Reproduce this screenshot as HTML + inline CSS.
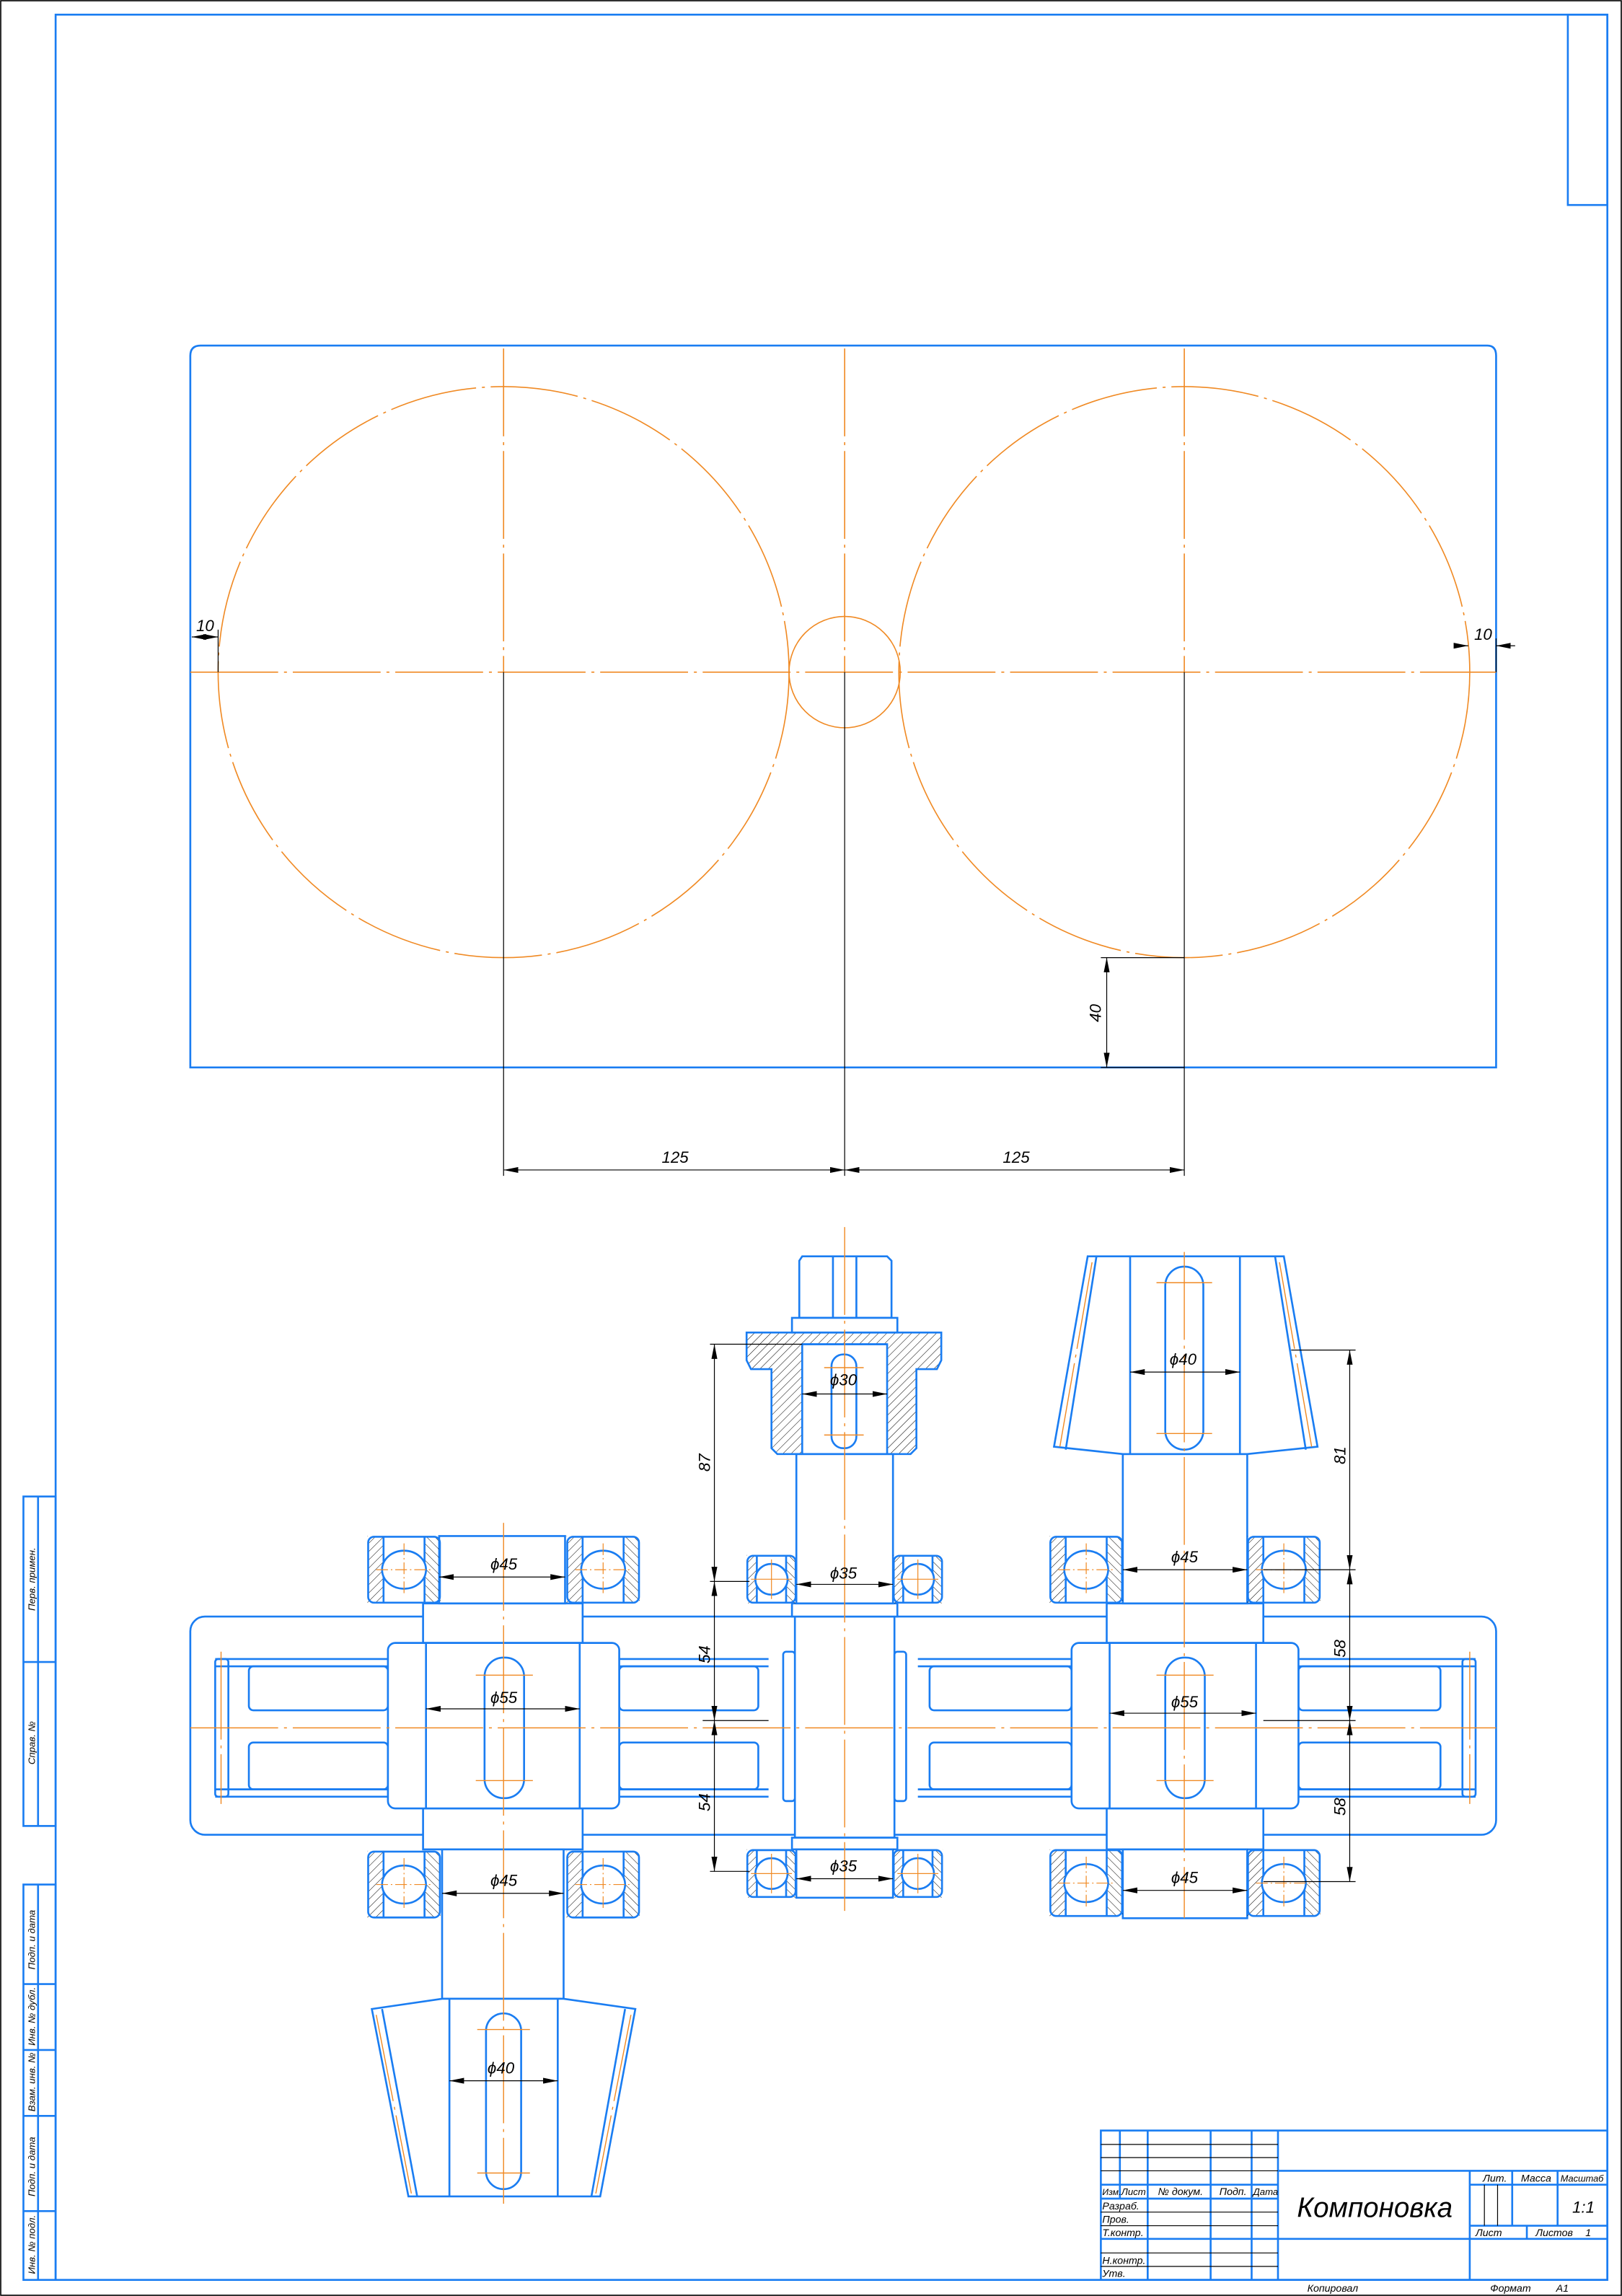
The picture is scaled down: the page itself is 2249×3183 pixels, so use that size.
<!DOCTYPE html>
<html><head><meta charset="utf-8"><style>
html,body{margin:0;padding:0;background:#fff}
svg{display:block}
text{font-family:"Liberation Sans","Noto Sans CJK SC",sans-serif;font-style:italic;fill:#000}
</style></head><body>
<svg width="2249" height="3183" viewBox="0 0 1108 1568" preserveAspectRatio="none" xmlns="http://www.w3.org/2000/svg">
<defs>
<pattern id="h" width="4" height="4" patternUnits="userSpaceOnUse" patternTransform="rotate(45)"><line x1="0" y1="0" x2="0" y2="4" stroke="#000" stroke-width="0.5"/></pattern>
<pattern id="h2" width="4" height="4" patternUnits="userSpaceOnUse" patternTransform="rotate(-45)"><line x1="0" y1="0" x2="0" y2="4" stroke="#000" stroke-width="0.5"/></pattern>
<g id="brg">
<rect x="0" y="0" width="11" height="46" fill="url(#h)"/>
<rect x="39" y="0" width="11" height="46" fill="url(#h2)"/>
<rect x="0.5" y="0.5" width="49" height="45" rx="4" fill="none" stroke="#1a7df2" stroke-width="1.3"/>
<line x1="11" y1="0" x2="11" y2="46" stroke="#1a7df2" stroke-width="1.3"/>
<line x1="39" y1="0" x2="39" y2="46" stroke="#1a7df2" stroke-width="1.3"/>
<ellipse cx="25" cy="23" rx="15" ry="13" fill="#fff" stroke="#1a7df2" stroke-width="1.3"/>
<line x1="6" y1="23" x2="44" y2="23" stroke="#f08a24" stroke-width="0.6" stroke-dasharray="8 2 1 2"/>
<line x1="25" y1="5" x2="25" y2="41" stroke="#f08a24" stroke-width="0.6" stroke-dasharray="8 2 1 2"/>
</g>
<g id="brg2">
<rect x="0" y="0" width="7" height="33" fill="url(#h)"/>
<rect x="27" y="0" width="7" height="33" fill="url(#h2)"/>
<rect x="0.5" y="0.5" width="33" height="32" rx="4" fill="none" stroke="#1a7df2" stroke-width="1.3"/>
<line x1="7" y1="0" x2="7" y2="33" stroke="#1a7df2" stroke-width="1.3"/>
<line x1="27" y1="0" x2="27" y2="33" stroke="#1a7df2" stroke-width="1.3"/>
<ellipse cx="17" cy="16.5" rx="11" ry="10.5" fill="#fff" stroke="#1a7df2" stroke-width="1.3"/>
<line x1="3" y1="16.5" x2="31" y2="16.5" stroke="#f08a24" stroke-width="0.6"/>
<line x1="17" y1="3" x2="17" y2="30" stroke="#f08a24" stroke-width="0.6"/>
</g>
<marker id="a" viewBox="0 0 10 4" refX="10" refY="2" markerWidth="10" markerHeight="4" markerUnits="userSpaceOnUse" orient="auto-start-reverse"><path d="M0,0 L10,2 L0,4z" fill="#000"/></marker>
</defs>

<rect x="0.5" y="0.5" width="1107" height="1567" fill="none" stroke="#000" stroke-width="0.8"/>
<g fill="none" stroke="#1a7df2" stroke-width="1.3">
<rect x="38" y="10" width="1060" height="1547"/>
<rect x="1071" y="10" width="27" height="130"/>
<rect x="16" y="1022" width="22" height="225"/>
<line x1="26" y1="1022" x2="26" y2="1247"/>
<line x1="16" y1="1135" x2="38" y2="1135"/>
<rect x="16" y="1287" width="22" height="270"/>
<line x1="26" y1="1287" x2="26" y2="1557"/>
<line x1="16" y1="1355" x2="38" y2="1355"/>
<line x1="16" y1="1400" x2="38" y2="1400"/>
<line x1="16" y1="1445" x2="38" y2="1445"/>
<line x1="16" y1="1510" x2="38" y2="1510"/>
</g>
<g font-size="6.5">
<text transform="translate(24,1100) rotate(-90)">Перв. примен.</text>
<text transform="translate(24,1205) rotate(-90)">Справ. №</text>
<text transform="translate(24,1345) rotate(-90)">Подп. и дата</text>
<text transform="translate(24,1397) rotate(-90)">Инв. № дубл.</text>
<text transform="translate(24,1442) rotate(-90)">Взам. инв. №</text>
<text transform="translate(24,1500) rotate(-90)">Подп. и дата</text>
<text transform="translate(24,1553) rotate(-90)">Инв. № подл.</text>
</g>

<path d="M130,729 L130,243 Q130,236 137,236 L1016,236 Q1022,236 1022,243 L1022,729 Z" fill="none" stroke="#1a7df2" stroke-width="1.3"/>
<g fill="none" stroke="#f08a24" stroke-width="0.8" stroke-dasharray="60 4 2 4">
<circle cx="344" cy="459" r="195"/>
<circle cx="809" cy="459" r="195"/>
<circle cx="577" cy="459" r="38" stroke-dasharray="none"/>
<line x1="130" y1="459" x2="1022" y2="459"/>
<line x1="344" y1="238" x2="344" y2="459"/>
<line x1="577" y1="238" x2="577" y2="459"/>
<line x1="809" y1="238" x2="809" y2="459"/>
</g>
<g stroke="#000" stroke-width="0.6" fill="none">
<line x1="344" y1="459" x2="344" y2="803"/>
<line x1="577" y1="459" x2="577" y2="803"/>
<line x1="809" y1="459" x2="809" y2="803"/>
<line x1="344" y1="799" x2="577" y2="799" marker-start="url(#a)" marker-end="url(#a)"/>
<line x1="577" y1="799" x2="809" y2="799" marker-start="url(#a)" marker-end="url(#a)"/>
<line x1="131" y1="435" x2="149" y2="435" marker-start="url(#a)" marker-end="url(#a)"/>
<line x1="149" y1="430" x2="149" y2="459"/>
<line x1="995" y1="441" x2="1003" y2="441" marker-end="url(#a)"/>
<line x1="1022" y1="441" x2="1035" y2="441" marker-start="url(#a)"/>
<line x1="1022" y1="436" x2="1022" y2="459"/>
<line x1="752" y1="654" x2="809" y2="654"/>
<line x1="752" y1="729" x2="809" y2="729"/>
<line x1="756" y1="654" x2="756" y2="729" marker-start="url(#a)" marker-end="url(#a)"/>
</g>
<g font-size="11">
<text x="452" y="794">125</text>
<text x="685" y="794">125</text>
<text x="134" y="431">10</text>
<text x="1007" y="437">10</text>
<text transform="translate(752,698) rotate(-90)">40</text>
</g>

<g fill="none" stroke="#1a7df2" stroke-width="1.3">
<rect x="130" y="1104" width="892" height="149" rx="10"/>
<path d="M147,1133 H265 M147,1138 H265 M147,1222 H265 M147,1227 H265 M423,1133 H525 M423,1138 H525 M423,1222 H525 M423,1227 H525"/>
<rect x="147" y="1133" width="9" height="94" rx="2"/>
<rect x="170" y="1138" width="95" height="30" rx="3"/>
<rect x="170" y="1190" width="95" height="32" rx="3"/>
<rect x="423" y="1138" width="95" height="30" rx="3"/>
<rect x="423" y="1190" width="95" height="32" rx="3"/>
<path d="M627,1133 H732 M627,1138 H732 M627,1222 H732 M627,1227 H732 M887,1133 H1008 M887,1138 H1008 M887,1222 H1008 M887,1227 H1008"/>
<rect x="999" y="1133" width="9" height="94" rx="2"/>
<rect x="635" y="1138" width="97" height="30" rx="3"/>
<rect x="635" y="1190" width="97" height="32" rx="3"/>
<rect x="887" y="1138" width="97" height="30" rx="3"/>
<rect x="887" y="1190" width="97" height="32" rx="3"/>
</g>
<g fill="#fff" stroke="#1a7df2" stroke-width="1.3">
<rect x="289" y="1095" width="109" height="27"/>
<rect x="289" y="1235" width="109" height="28"/>
<rect x="300" y="1049" width="86" height="46"/>
<rect x="302" y="1263" width="83" height="102"/>
<rect x="265" y="1122" width="158" height="113" rx="5"/>
<line x1="291" y1="1122" x2="291" y2="1235"/>
<line x1="396" y1="1122" x2="396" y2="1235"/>
<rect x="331" y="1132" width="27" height="96" rx="13"/>
<path d="M254,1372 L302,1365 H385 L434,1372 L410,1500 H279 Z"/>
<line x1="261" y1="1372" x2="285" y2="1500"/>
<line x1="427" y1="1372" x2="404" y2="1500"/>
<line x1="307" y1="1365" x2="307" y2="1500"/>
<line x1="381" y1="1365" x2="381" y2="1500"/>
<rect x="332" y="1375" width="24" height="120" rx="12"/>

<rect x="543" y="1104" width="68" height="151"/>
<rect x="535" y="1128" width="8" height="102" rx="2"/>
<rect x="611" y="1128" width="8" height="102" rx="2"/>
<rect x="541" y="1095" width="72" height="9"/>
<rect x="541" y="1255" width="72" height="8"/>
<rect x="544" y="993" width="66" height="102"/>
<rect x="544" y="1263" width="66" height="33"/>
<path d="M548,858 H606 L609,861 V900 H546 V861 Z"/>
<line x1="569" y1="858" x2="569" y2="900"/>
<line x1="585" y1="858" x2="585" y2="900"/>
<rect x="541" y="900" width="72" height="10"/>
</g>
<path d="M510,910 H643 V929 L640,935 H626 V989 L622,993 H531 L527,989 V935 H513 L510,929 Z M548,918 V993 H606 V918 Z" fill="url(#h)" fill-rule="evenodd" stroke="#1a7df2" stroke-width="1.3"/>
<g fill="none" stroke="#1a7df2" stroke-width="1.3">
<line x1="548" y1="918" x2="606" y2="918"/>
<rect x="568" y="925" width="17" height="64" rx="8" fill="#fff"/>
</g>
<g fill="#fff" stroke="#1a7df2" stroke-width="1.3">
<rect x="756" y="1095" width="107" height="27"/>
<rect x="756" y="1235" width="107" height="28"/>
<rect x="767" y="993" width="85" height="102"/>
<rect x="767" y="1263" width="85" height="47"/>
<rect x="732" y="1122" width="155" height="113" rx="5"/>
<line x1="758" y1="1122" x2="758" y2="1235"/>
<line x1="858" y1="1122" x2="858" y2="1235"/>
<rect x="796" y="1132" width="27" height="96" rx="13"/>
<path d="M743,858 H877 L900,988 L852,993 H767 L720,988 Z"/>
<line x1="749" y1="858" x2="728" y2="990"/>
<line x1="871" y1="858" x2="892" y2="990"/>
<line x1="772" y1="858" x2="772" y2="993"/>
<line x1="847" y1="858" x2="847" y2="993"/>
<rect x="796" y="865" width="26" height="125" rx="13"/>
</g>

<use href="#brg" transform="translate(251,1049)"/>
<use href="#brg" transform="translate(387,1049)"/>
<use href="#brg" transform="translate(251,1264)"/>
<use href="#brg" transform="translate(387,1264)"/>
<use href="#brg" transform="translate(717,1049)"/>
<use href="#brg" transform="translate(852,1049)"/>
<use href="#brg" transform="translate(717,1263)"/>
<use href="#brg" transform="translate(852,1263)"/>
<use href="#brg2" transform="translate(510,1062)"/>
<use href="#brg2" transform="translate(610,1062)"/>
<use href="#brg2" transform="translate(510,1263)"/>
<use href="#brg2" transform="translate(610,1263)"/>

<g stroke="#f08a24" stroke-width="0.7" stroke-dasharray="60 4 2 4" fill="none">
<line x1="130" y1="1180" x2="1022" y2="1180"/>
<line x1="344" y1="1040" x2="344" y2="1505"/>
<line x1="577" y1="838" x2="577" y2="1305"/>
<line x1="809" y1="855" x2="809" y2="1310"/>
<line x1="151" y1="1128" x2="151" y2="1232"/>
<line x1="1004" y1="1128" x2="1004" y2="1232"/>
<line x1="257" y1="1376" x2="281" y2="1498"/>
<line x1="431" y1="1376" x2="407" y2="1498"/>
<line x1="746" y1="862" x2="724" y2="988"/>
<line x1="874" y1="862" x2="896" y2="988"/>
</g>
<g stroke="#f08a24" stroke-width="0.7">
<line x1="325" y1="1144" x2="364" y2="1144"/><line x1="325" y1="1216" x2="364" y2="1216"/>
<line x1="790" y1="1144" x2="829" y2="1144"/><line x1="790" y1="1216" x2="829" y2="1216"/>
<line x1="326" y1="1386" x2="362" y2="1386"/><line x1="326" y1="1484" x2="362" y2="1484"/>
<line x1="790" y1="876" x2="828" y2="876"/><line x1="790" y1="979" x2="828" y2="979"/>
<line x1="563" y1="934" x2="590" y2="934"/><line x1="563" y1="980" x2="590" y2="980"/>
</g>

<g stroke="#000" stroke-width="0.6" fill="none">
<line x1="300" y1="1077" x2="386" y2="1077" marker-start="url(#a)" marker-end="url(#a)"/>
<line x1="291" y1="1167" x2="396" y2="1167" marker-start="url(#a)" marker-end="url(#a)"/>
<line x1="302" y1="1293" x2="385" y2="1293" marker-start="url(#a)" marker-end="url(#a)"/>
<line x1="307" y1="1421" x2="381" y2="1421" marker-start="url(#a)" marker-end="url(#a)"/>
<line x1="548" y1="952" x2="606" y2="952" marker-start="url(#a)" marker-end="url(#a)"/>
<line x1="544" y1="1082" x2="610" y2="1082" marker-start="url(#a)" marker-end="url(#a)"/>
<line x1="544" y1="1283" x2="610" y2="1283" marker-start="url(#a)" marker-end="url(#a)"/>
<line x1="772" y1="937" x2="847" y2="937" marker-start="url(#a)" marker-end="url(#a)"/>
<line x1="767" y1="1072" x2="852" y2="1072" marker-start="url(#a)" marker-end="url(#a)"/>
<line x1="758" y1="1170" x2="858" y2="1170" marker-start="url(#a)" marker-end="url(#a)"/>
<line x1="767" y1="1291" x2="852" y2="1291" marker-start="url(#a)" marker-end="url(#a)"/>
<line x1="485" y1="918" x2="548" y2="918"/>
<line x1="485" y1="1080" x2="512" y2="1080"/>
<line x1="485" y1="1278" x2="512" y2="1278"/>
<line x1="488" y1="918" x2="488" y2="1080" marker-start="url(#a)" marker-end="url(#a)"/>
<line x1="488" y1="1080" x2="488" y2="1175" marker-start="url(#a)" marker-end="url(#a)"/>
<line x1="488" y1="1175" x2="488" y2="1278" marker-start="url(#a)" marker-end="url(#a)"/>
<line x1="480" y1="1175" x2="525" y2="1175"/>
<line x1="882" y1="922" x2="926" y2="922"/>
<line x1="863" y1="1072" x2="926" y2="1072"/>
<line x1="863" y1="1175" x2="926" y2="1175"/>
<line x1="863" y1="1285" x2="926" y2="1285"/>
<line x1="922" y1="922" x2="922" y2="1072" marker-start="url(#a)" marker-end="url(#a)"/>
<line x1="922" y1="1072" x2="922" y2="1175" marker-start="url(#a)" marker-end="url(#a)"/>
<line x1="922" y1="1175" x2="922" y2="1285" marker-start="url(#a)" marker-end="url(#a)"/>
</g>
<g font-size="11">
<text x="335" y="1072">ϕ45</text>
<text x="335" y="1163">ϕ55</text>
<text x="335" y="1288">ϕ45</text>
<text x="333" y="1416">ϕ40</text>
<text x="567" y="946">ϕ30</text>
<text x="567" y="1078">ϕ35</text>
<text x="567" y="1278">ϕ35</text>
<text x="799" y="932">ϕ40</text>
<text x="800" y="1067">ϕ45</text>
<text x="800" y="1166">ϕ55</text>
<text x="800" y="1286">ϕ45</text>
<text transform="translate(485,1005) rotate(-90)">87</text>
<text transform="translate(485,1136) rotate(-90)">54</text>
<text transform="translate(485,1237) rotate(-90)">54</text>
<text transform="translate(919,1000) rotate(-90)">81</text>
<text transform="translate(919,1132) rotate(-90)">58</text>
<text transform="translate(919,1240) rotate(-90)">58</text>
</g>

<g fill="none" stroke="#1a7df2" stroke-width="1.3">
<rect x="752" y="1455" width="346" height="102"/>
<line x1="765" y1="1455" x2="765" y2="1501"/>
<line x1="784" y1="1455" x2="784" y2="1557"/>
<line x1="827" y1="1455" x2="827" y2="1557"/>
<line x1="855" y1="1455" x2="855" y2="1557"/>
<line x1="873" y1="1455" x2="873" y2="1557"/>
<line x1="752" y1="1492" x2="873" y2="1492"/>
<line x1="752" y1="1501.5" x2="873" y2="1501.5"/>
<line x1="752" y1="1529" x2="873" y2="1529"/>
<line x1="873" y1="1482.5" x2="1098" y2="1482.5"/>
<line x1="1004" y1="1492" x2="1098" y2="1492"/>
<line x1="1004" y1="1520" x2="1098" y2="1520"/>
<line x1="873" y1="1529" x2="1098" y2="1529"/>
<line x1="1004" y1="1482.5" x2="1004" y2="1557"/>
<line x1="1033" y1="1482.5" x2="1033" y2="1520"/>
<line x1="1064" y1="1482.5" x2="1064" y2="1520"/>
<line x1="1043" y1="1520" x2="1043" y2="1529"/>
</g>
<g stroke="#000" stroke-width="0.6">
<line x1="752" y1="1464.5" x2="873" y2="1464.5"/>
<line x1="752" y1="1473.5" x2="873" y2="1473.5"/>
<line x1="752" y1="1482.5" x2="873" y2="1482.5"/>
<line x1="752" y1="1510.7" x2="873" y2="1510.7"/>
<line x1="752" y1="1520" x2="873" y2="1520"/>
<line x1="752" y1="1538.6" x2="873" y2="1538.6"/>
<line x1="752" y1="1547.8" x2="873" y2="1547.8"/>
<line x1="1014" y1="1492" x2="1014" y2="1520"/>
<line x1="1023" y1="1492" x2="1023" y2="1520"/>
</g>
<g font-size="7">
<text x="753" y="1499" font-size="6">Изм.</text><text x="766" y="1499" font-size="6.5">Лист</text><text x="791" y="1499">№ докум.</text><text x="833" y="1499">Подп.</text><text x="856" y="1499" font-size="6.5">Дата</text>
<text x="753" y="1509">Разраб.</text>
<text x="753" y="1518">Пров.</text>
<text x="753" y="1527">Т.контр.</text>
<text x="753" y="1546">Н.контр.</text>
<text x="753" y="1555">Утв.</text>
<text x="1013" y="1490">Лит.</text><text x="1039" y="1490">Масса</text><text x="1066" y="1490" font-size="6.3">Масштаб</text>
<text x="1008" y="1527">Лист</text><text x="1049" y="1527">Листов</text><text x="1083" y="1527">1</text>
<text x="893" y="1565">Копировал</text>
<text x="1018" y="1565">Формат</text><text x="1063" y="1565">А1</text>
</g>
<text x="886" y="1514" font-size="19">Компоновка</text>
<text x="1074" y="1511" font-size="11">1:1</text>
</svg>
</body></html>
